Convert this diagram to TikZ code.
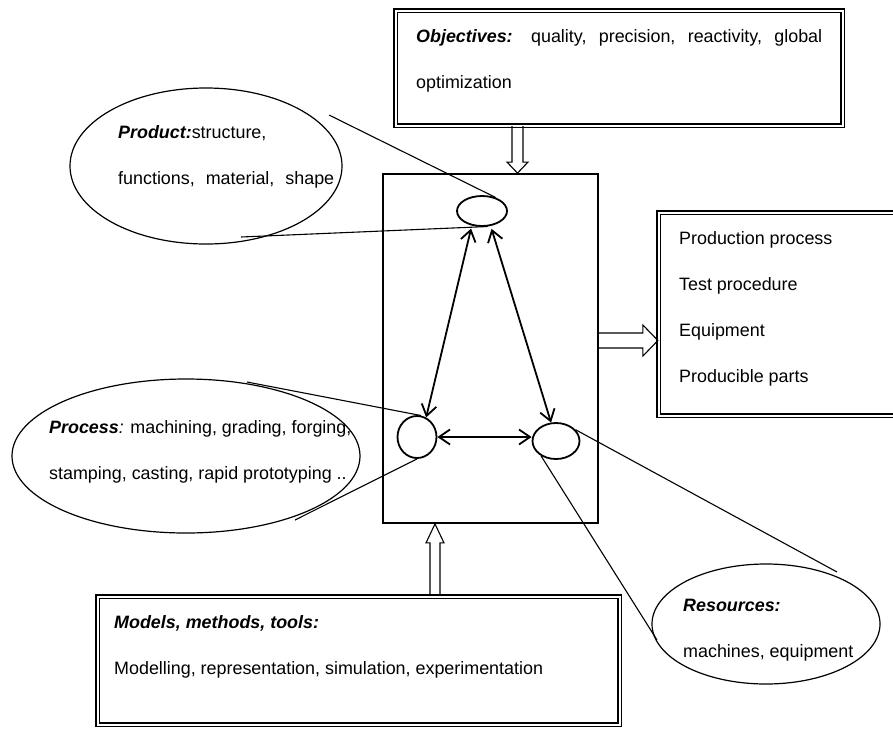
\documentclass[tikz,border=0pt]{standalone}
\usepackage{fontspec}
\setmainfont{Liberation Sans}
\usetikzlibrary{shapes.geometric,arrows.meta,calc}

\tikzset{
  dblbox/.style={draw, line width=1.2pt, double, double distance=2pt, inner sep=0pt},
  txt/.style={anchor=north west, inner sep=0pt, align=left, font=\fontsize{17.9}{46}\selectfont},
  bigell/.style={draw, ellipse, line width=1.2pt, inner sep=0pt},
  smallell/.style={draw, ellipse, line width=1.8pt, inner sep=0pt},
  callout/.style={line width=1.1pt},
  hollow/.style n args={3}{line width=1.1pt, to path={
      ($(\tikztotarget)!#3!(\tikztostart)$) coordinate (hh)
      ($(\tikztostart)!#1!90:(\tikztotarget)$) -- ($(hh)!#1!90:(\tikztotarget)$)
      -- ($(hh)!#2!90:(\tikztotarget)$) -- (\tikztotarget)
      -- ($(hh)!#2!-90:(\tikztotarget)$) -- ($(hh)!#1!-90:(\tikztotarget)$)
      -- ($(\tikztostart)!#1!-90:(\tikztotarget)$)}}
}

\begin{document}
\begin{tikzpicture}[x=1pt, y=-1pt, >={Straight Barb[length=11pt,width=15pt]}]
    \useasboundingbox (0,0) rectangle (893,729);
    \clip (0,0) rectangle (893,729);

    % boxes
    \node[dblbox, minimum width=447pt, minimum height=115pt] (obj) at (619,68) {};
    \node[dblbox, minimum width=244pt, minimum height=203pt] (out) at (780.5,314) {};
    \node[dblbox, minimum width=522pt, minimum height=128pt] (mmt) at (358.5,660.5) {};
    \node[draw, line width=1.8pt, minimum width=215pt, minimum height=349pt, inner sep=0pt] (sys) at (490.5,348.5) {};

    % big ellipses
    \node[bigell, minimum width=272pt, minimum height=156pt] (prodE) at (206,166) {};
    \node[bigell, minimum width=348pt, minimum height=154pt] (procE) at (186,456) {};
    \node[bigell, minimum width=228pt, minimum height=120pt] (resE) at (766,624) {};

    % small ellipses in the system box
    \node[smallell, minimum width=50pt, minimum height=30pt] (prod) at (482,211) {};
    \node[smallell, minimum width=39pt, minimum height=42pt] (proc) at (417,437) {};
    \node[smallell, minimum width=47pt, minimum height=36pt] (res) at (556,441) {};

    % texts
    \node[txt, text width=406pt, align=justify] (objtext) at (416,29)
        {\textbf{\textit{Objectives:}} quality, precision, reactivity, global\linebreak optimization};
    \node[txt] (prodtext) at (118,125)
        {\textbf{\textit{Product:}}structure,\\\makebox[216pt][s]{functions, material, shape}};
    \node[txt] (proctext) at (49,420)
        {\textbf{\textit{Process}}\textit{:} machining, grading, forging,\\stamping, casting, rapid prototyping ..};
    \node[txt] (outtext) at (679,231)
        {Production process\\Test procedure\\Equipment\\Producible parts};
    \node[txt] (restext) at (683,599)
        {\textbf{\textit{Resources:}}\\machines, equipment};
    \node[txt] (mmttext) at (114,615)
        {\textbf{\textit{Models, methods, tools:}}\\Modelling, representation, simulation, experimentation};

    % callouts
    \coordinate (prodA) at (329,115);
    \coordinate (prodB) at (241,237);
    \coordinate (procA) at (247,382);
    \coordinate (procB) at (295,520);
    \coordinate (resA) at (837,572);
    \coordinate (resB) at (657,640);
    \draw[callout] (prodA) -- (prod.45);
    \draw[callout] (prodB) -- (prod.290);
    \draw[callout] (procA) -- (proc.80);
    \draw[callout] (procB) -- (proc.south);
    \draw[callout] (resA) -- (res.30);
    \draw[callout] (resB) -- (res.225);

    % links between product, process and resources
    \draw[line width=1.8pt, <->, shorten <=3pt] (prod.235) -- (proc.65);
    \draw[line width=1.8pt, <->, shorten <=3pt] (prod.300) -- (res.105);
    \draw[line width=1.8pt, <->] (proc.east) -- (proc.east -| res.west);

    % hollow arrows
    \coordinate (objout) at (517.5,0 |- obj.south);
    \coordinate (sysin) at (517.5,0 |- sys.north);
    \coordinate (sysout) at (0,340.5 -| sys.east);
    \coordinate (outin) at (0,340.5 -| out.west);
    \coordinate (mmtout) at (435,0 |- mmt.north);
    \coordinate (sysbot) at (435,0 |- sys.south);
    \draw[hollow={5.5pt}{10.5pt}{11pt}] (objout) to (sysin);
    \draw[hollow={7.5pt}{15.5pt}{15pt}] (sysout) to (outin);
    \draw[hollow={5pt}{9pt}{19pt}] (mmtout) to (sysbot);
\end{tikzpicture}
\end{document}
